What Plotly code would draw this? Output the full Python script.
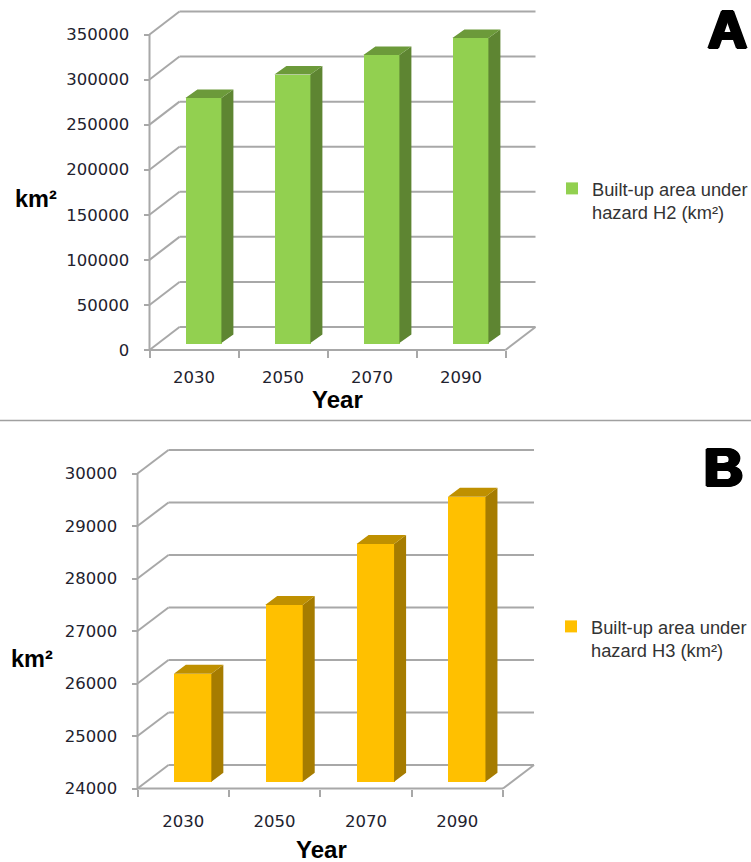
import plotly.graph_objects as go

years = ["2030", "2050", "2070", "2090"]
h2_area = [271800, 297900, 319500, 338400]
h3_area = [26060, 27370, 28530, 29430]
h2_ticks = [0, 50000, 100000, 150000, 200000, 250000, 300000, 350000]
h3_ticks = [24000, 25000, 26000, 27000, 28000, 29000, 30000]

W, H = 751, 862
GRID = "#A8A8A8"
TICKFONT = dict(family="DejaVu Sans", size=16.5, color="#22222E")

panels = [
    dict(id="", name="Built-up area under<br>hazard H2 (km²)", values=h2_area, ticks=h2_ticks,
         left=149.5, right=505.5, bottom=350, top=34.5, wall=(30, 23), bar_w=36, shift=9.4,
         lift=7, depth=(12, 8.5), front="#92D050", side="#5E8532", cap="#6C9A3A", legend="legend",
         legend_xy=(552, 170), xstand=15),
    dict(id="2", name="Built-up area under<br>hazard H3 (km²)", values=h3_area, ticks=h3_ticks,
         left=137.5, right=503, bottom=788.5, top=473.5, wall=(31, 23.5), bar_w=37.5, shift=9.4,
         lift=6.7, depth=(12, 9), front="#FFC000", side="#A67C00", cap="#BF9000", legend="legend2",
         legend_xy=(551, 608), xstand=21),
]

fig = go.Figure()
PAD = 4
layout = {}

for p in panels:
    n = len(years)
    ymin, ymax = p["ticks"][0], p["ticks"][-1]
    ppx = (p["right"] - p["left"]) / n          # pixels per category
    ppy = (p["bottom"] - p["top"]) / (ymax - ymin)  # pixels per value unit
    wx, wy = p["wall"][0] / ppx, p["wall"][1] / ppy
    dx, dy = p["depth"][0] / ppx, p["depth"][1] / ppy
    shift = p["shift"] / ppx
    bw = p["bar_w"] / ppx
    lift = p["lift"] / ppy
    base = ymin + lift
    xs = list(range(n))

    # bar front faces (the front plane of the bars sits slightly behind the axis plane)
    fig.add_trace(go.Bar(
        x=[x + shift for x in xs], y=[v - ymin for v in p["values"]], base=base, width=bw,
        marker=dict(color=p["front"], line=dict(width=0)), name=p["name"],
        xaxis="x" + p["id"], yaxis="y" + p["id"], legend=p["legend"], hoverinfo="skip"))

    # bar side and cap faces
    sx, sy, cx, cy = [], [], [], []
    for x, v in zip(xs, p["values"]):
        l, r = x + shift - bw / 2, x + shift + bw / 2
        t = v + lift
        sx += [r, r + dx, r + dx, r, r, None]
        sy += [t, t + dy, base + dy, base, t, None]
        cx += [l, l + dx, r + dx, r, l, None]
        cy += [t, t + dy, t + dy, t, t, None]
    for fx, fy, col in ((sx, sy, p["side"]), (cx, cy, p["cap"])):
        fig.add_trace(go.Scatter(
            x=fx, y=fy, mode="lines", fill="toself", fillcolor=col, line=dict(width=0, color=col),
            xaxis="x" + p["id"], yaxis="y" + p["id"], showlegend=False, hoverinfo="skip"))

    # walls, floor and front axis lines
    x0, x1 = -0.5, n - 0.5
    line = dict(color=GRID, width=2)
    ref = dict(xref="x" + p["id"], yref="y" + p["id"], layer="below", line=line, type="line")
    for t in p["ticks"]:
        fig.add_shape(x0=x0, y0=t, x1=x0 + wx, y1=t + wy, **ref)
        fig.add_shape(x0=x0 + wx, y0=t + wy, x1=x1 + wx, y1=t + wy, **ref)
    fig.add_shape(x0=x1, y0=ymin, x1=x1 + wx, y1=ymin + wy, **ref)
    fig.add_shape(x0=x0, y0=ymin, x1=x1, y1=ymin, **ref)
    fig.add_shape(x0=x0, y0=ymin, x1=x0, y1=ymax, **ref)

    # axes: domain includes the back wall, ticks stay on the front plane
    dl, dr = p["left"] - PAD, p["right"] + p["wall"][0] + PAD
    dt, db = p["top"] - p["wall"][1] - PAD, p["bottom"] + PAD
    layout["xaxis" + p["id"]] = dict(
        domain=[dl / W, dr / W],
        range=[x0 - PAD / ppx, x1 + wx + PAD / ppx],
        anchor="free", position=1 - p["bottom"] / H,
        tickmode="array", tickvals=xs, ticktext=years, ticks="", showgrid=False, zeroline=False,
        showline=False, tickfont=TICKFONT, ticklabelstandoff=p["xstand"],
        minor=dict(tickmode="array", tickvals=[x0 + i for i in range(n + 1)], ticks="outside",
                   ticklen=7, tickwidth=2, tickcolor=GRID, showgrid=False))
    layout["yaxis" + p["id"]] = dict(
        domain=[1 - db / H, 1 - dt / H],
        range=[ymin - PAD / ppy, ymax + wy + PAD / ppy],
        anchor="free", position=p["left"] / W,
        tickmode="array", tickvals=p["ticks"], ticktext=[str(t) for t in p["ticks"]],
        ticks="outside", ticklen=6, tickwidth=2, tickcolor=GRID, showgrid=False, zeroline=False,
        showline=False, tickfont=TICKFONT, ticklabelstandoff=11)
    layout[p["legend"]] = dict(
        x=p["legend_xy"][0] / W, y=1 - p["legend_xy"][1] / H, xanchor="left", yanchor="top",
        valign="top", bgcolor="rgba(0,0,0,0)",
        font=dict(family="Liberation Sans", size=18.3, color="#333333"),
        itemclick=False, itemdoubleclick=False, tracegroupgap=0)


def label(text, px, py, size, family="Liberation Sans", **kw):
    return dict(text=text, x=px / W, y=1 - py / H, xref="paper", yref="paper", showarrow=False,
                xanchor="center", yanchor="middle",
                font=dict(family=family, size=size, color="#000000", **kw))


thick = "2px 0 0 #000, -2px 0 0 #000, 0 1px 0 #000, 0 -1px 0 #000, 1px 1px 0 #000, -1px -1px 0 #000, 1px -1px 0 #000, -1px 1px 0 #000"
annotations = [
    label("<b>km²</b>", 36, 199, 23.5),
    label("<b>Year</b>", 337, 399, 24),
    label("<b>km²</b>", 31.5, 659, 23.5),
    label("<b>Year</b>", 321.5, 849, 24),
    label("<b>A</b>", 727.5, 29, 54, shadow=thick),
    label("<b>B</b>", 723.5, 467, 54, shadow=thick),
]

fig.add_shape(type="line", xref="paper", yref="paper", x0=0, x1=1, y0=1 - 420.5 / H, y1=1 - 420.5 / H,
              line=dict(color="#A0A0A0", width=1.5))

fig.update_layout(
    width=W, height=H, margin=dict(l=0, r=0, t=0, b=0, autoexpand=False), paper_bgcolor="white",
    plot_bgcolor="rgba(0,0,0,0)", annotations=annotations, barmode="overlay", bargap=0, **layout)

fig.write_html("out.html", config=dict(displayModeBar=False),
               post_script="document.body.style.margin='0';document.body.style.overflow='hidden';")
